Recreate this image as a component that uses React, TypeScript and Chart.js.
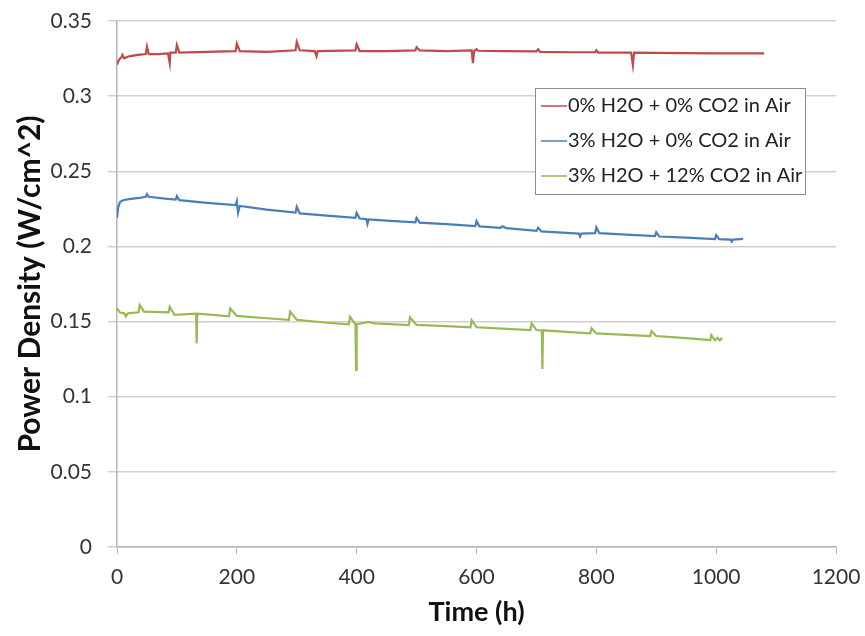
import React, { useEffect, useRef } from "react";
import { Chart, registerables } from "chart.js";

Chart.register(...registerables);

const seriesLabels = [
  "0% H2O + 0% CO2 in Air",
  "3% H2O + 0% CO2 in Air",
  "3% H2O + 12% CO2 in Air",
];
const seriesColors = ["#be4b48", "#4a7ebb", "#98b954"];

const redTime = [0, 3, 8, 9, 12, 20, 35, 48, 50, 53, 70, 85, 88, 89, 98, 100, 104, 150, 198, 200, 205, 250, 298, 300, 305, 330, 333, 335, 398, 400, 405, 450, 498, 500, 505, 550, 592, 594, 596, 600, 603, 650, 700, 703, 706, 760, 798, 800, 803, 858, 861, 863, 900, 950, 1000, 1050, 1080];
const redValue = [0.321, 0.324, 0.3262, 0.3275, 0.3252, 0.3265, 0.3275, 0.328, 0.333, 0.328, 0.328, 0.3285, 0.322, 0.329, 0.329, 0.334, 0.329, 0.3295, 0.33, 0.335, 0.33, 0.3295, 0.3305, 0.336, 0.3305, 0.33, 0.3265, 0.33, 0.3305, 0.3345, 0.33, 0.33, 0.3305, 0.3325, 0.3305, 0.33, 0.3305, 0.322, 0.33, 0.3312, 0.3302, 0.33, 0.3298, 0.3312, 0.3295, 0.3292, 0.3292, 0.3305, 0.329, 0.329, 0.3207, 0.329, 0.3288, 0.3286, 0.3285, 0.3284, 0.3284];

const blueTime = [0, 2, 5, 10, 20, 40, 48, 50, 53, 80, 98, 100, 104, 150, 198, 200, 202, 205, 250, 298, 300, 305, 350, 398, 400, 405, 416, 418, 420, 450, 498, 500, 505, 550, 598, 600, 605, 640, 643, 650, 700, 703, 708, 750, 771, 773, 775, 798, 800, 805, 850, 898, 900, 905, 950, 998, 1000, 1005, 1024, 1026, 1028, 1045];
const blueValue = [0.219, 0.226, 0.2295, 0.2307, 0.2315, 0.2325, 0.233, 0.2348, 0.233, 0.2318, 0.2312, 0.2335, 0.2308, 0.229, 0.2275, 0.2302, 0.2225, 0.227, 0.2245, 0.2225, 0.2264, 0.222, 0.2205, 0.219, 0.2224, 0.2186, 0.2182, 0.2149, 0.218, 0.2172, 0.216, 0.2189, 0.2158, 0.2148, 0.2135, 0.2169, 0.2133, 0.2124, 0.2134, 0.2122, 0.2103, 0.2125, 0.21, 0.209, 0.2085, 0.2066, 0.2085, 0.2088, 0.2127, 0.2088, 0.2078, 0.2068, 0.2095, 0.2066, 0.2058, 0.2049, 0.2075, 0.2049, 0.2045, 0.2032, 0.2045, 0.205];

const greenTime = [0, 5, 12, 15, 18, 36, 38, 45, 86, 88, 96, 132, 133, 134, 150, 187, 189, 200, 250, 287, 289, 300, 350, 387, 389, 398, 399, 400, 420, 430, 487, 489, 500, 550, 590, 592, 600, 650, 690, 692, 700, 709, 710, 711, 750, 790, 792, 800, 850, 890, 892, 900, 950, 990, 992, 998, 1002, 1006, 1010];
const greenValue = [0.1587, 0.156, 0.1555, 0.1535, 0.1555, 0.1562, 0.161, 0.1566, 0.1562, 0.1599, 0.1544, 0.1552, 0.1355, 0.1552, 0.1548, 0.1535, 0.1587, 0.1538, 0.1522, 0.1512, 0.1566, 0.1512, 0.1492, 0.1481, 0.1532, 0.1482, 0.1178, 0.1482, 0.1497, 0.1488, 0.1477, 0.1528, 0.1478, 0.147, 0.1462, 0.151, 0.1462, 0.1452, 0.1444, 0.1488, 0.1444, 0.1442, 0.1185, 0.1442, 0.1432, 0.1421, 0.1455, 0.1421, 0.1412, 0.1404, 0.1436, 0.1404, 0.139, 0.1377, 0.141, 0.1375, 0.1392, 0.1375, 0.139];

const seriesTimes = [redTime, blueTime, greenTime];
const seriesValues = [redValue, blueValue, greenValue];

const xMin = 0;
const xMax = 1200;
const xStep = 200;
const yMin = 0;
const yMax = 0.35;
const yStep = 0.05;
const xTitle = "Time (h)";
const yTitle = "Power Density (W/cm^2)";

const FONT = "Lato, 'Open Sans', sans-serif";

const boxLegend = {
  id: "boxLegend",
  afterDraw(chart: any) {
    const ctx = chart.ctx as CanvasRenderingContext2D;
    const ca = chart.chartArea;
    const left = ca.left + 418;
    const top = ca.top + 67;
    const w = 270;
    const h = 106;
    ctx.save();
    ctx.fillStyle = "#ffffff";
    ctx.fillRect(left, top, w, h);
    ctx.strokeStyle = "#8c8c8c";
    ctx.lineWidth = 1;
    ctx.strokeRect(left + 0.5, top + 0.5, w, h);
    ctx.font = `20px ${FONT}`;
    ctx.textBaseline = "middle";
    ctx.textAlign = "left";
    chart.data.datasets.forEach((ds: any, i: number) => {
      const cy = top + 18 + i * 35;
      ctx.strokeStyle = ds.borderColor;
      ctx.lineWidth = 1.5;
      ctx.beginPath();
      ctx.moveTo(left + 6, cy);
      ctx.lineTo(left + 32, cy);
      ctx.stroke();
      ctx.fillStyle = "#222222";
      ctx.fillText(ds.label, left + 33, cy);
    });
    ctx.restore();
  },
};

export default function App() {
  const canvasRef = useRef<HTMLCanvasElement | null>(null);

  useEffect(() => {
    const canvas = canvasRef.current;
    if (!canvas) return;
    const datasets = seriesLabels.map((label, i) => ({
      label,
      data: seriesTimes[i].map((t, j) => ({ x: t, y: seriesValues[i][j] })),
      borderColor: seriesColors[i],
      backgroundColor: seriesColors[i],
      borderWidth: 2.2,
      pointRadius: 0,
      tension: 0,
      fill: false,
    }));
    const chart = new Chart(canvas, {
      type: "line",
      data: { datasets },
      plugins: [boxLegend],
      options: {
        animation: false,
        responsive: false,
        maintainAspectRatio: false,
        layout: { padding: { top: 21, right: 29, left: 12, bottom: 8 } },
        plugins: {
          legend: { display: false },
          tooltip: { enabled: false },
        },
        scales: {
          x: {
            type: "linear",
            min: xMin,
            max: xMax,
            afterFit: (s: any) => {
              s.height = 81;
              s.paddingLeft = 0;
              s.paddingRight = 0;
            },
            ticks: {
              stepSize: xStep,
              font: { family: FONT, size: 21 },
              color: "#333333",
              padding: 11,
              maxRotation: 0,
              callback: (v: any) => String(v),
            },
            grid: {
              drawOnChartArea: false,
              drawTicks: true,
              tickLength: 7,
              color: "#b5b5b5",
            },
            border: { color: "#b5b5b5", width: 1.5 },
            title: {
              display: true,
              text: xTitle,
              font: { family: FONT, size: 27, weight: "bold" },
              color: "#111111",
              padding: { top: 0, bottom: 0 },
            },
          },
          y: {
            type: "linear",
            min: yMin,
            max: yMax,
            afterFit: (s: any) => {
              s.width = 105;
              s.paddingTop = 0;
              s.paddingBottom = 0;
            },
            ticks: {
              stepSize: yStep,
              font: { family: FONT, size: 21 },
              color: "#333333",
              padding: 16,
              callback: (v: any) => String(+Number(v).toFixed(2)),
            },
            grid: {
              drawTicks: true,
              tickLength: 9,
              color: "#d0d0d0",
              lineWidth: 1.5,
            },
            border: { color: "#b5b5b5", width: 1.5 },
            title: {
              display: true,
              text: yTitle,
              font: { family: FONT, size: 30, weight: "bold" },
              color: "#111111",
              padding: { top: 0, bottom: 0 },
            },
          },
        },
      },
    });
    return () => chart.destroy();
  }, []);

  return (
    <div style={{ position: "absolute", left: 0, top: 0, width: 865, height: 636, background: "#fff" }}>
      <canvas ref={canvasRef} width={865} height={636} style={{ display: "block" }} />
    </div>
  );
}
